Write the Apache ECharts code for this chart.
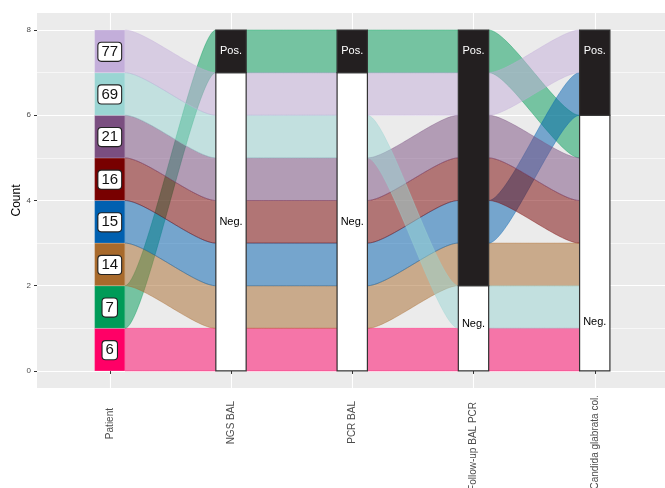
<!DOCTYPE html>
<html><head><meta charset="utf-8">
<script src="https://cdn.jsdelivr.net/npm/echarts@6/dist/echarts.min.js"></script>
<style>html,body{margin:0;padding:0;background:#fff}#c{width:665px;height:488px}</style>
</head><body><div id="c"></div>
<script>
// ---------- data ----------
const axisNames = ['Patient', 'NGS BAL', 'PCR BAL', 'Follow-up BAL PCR', 'Candida glabrata col.'];
const patients = ['6', '7', '14', '15', '16', '21', '69', '77'];
const patientCount = [1, 1, 1, 1, 1, 1, 1, 1];
const ngsBAL       = ['Neg.', 'Pos.', 'Neg.', 'Neg.', 'Neg.', 'Neg.', 'Neg.', 'Neg.'];
const pcrBAL       = ['Neg.', 'Pos.', 'Neg.', 'Neg.', 'Neg.', 'Neg.', 'Neg.', 'Neg.'];
const followUpPCR  = ['Neg.', 'Pos.', 'Pos.', 'Pos.', 'Pos.', 'Pos.', 'Neg.', 'Pos.'];
const candidaCol   = ['Neg.', 'Neg.', 'Neg.', 'Pos.', 'Neg.', 'Neg.', 'Neg.', 'Pos.'];
// stacking order of patients (bottom -> top) on each axis
const orderPatient  = ['6', '7', '14', '15', '16', '21', '69', '77'];
const orderNGS      = ['6', '14', '15', '16', '21', '69', '77', '7'];
const orderPCR      = ['6', '14', '15', '16', '21', '69', '77', '7'];
const orderFollowUp = ['6', '69', '14', '15', '16', '21', '77', '7'];
const orderCandida  = ['6', '69', '14', '16', '21', '7', '15', '77'];
const strataLevels = ['Neg.', 'Pos.'];
const negLabelY = [null, 3.5, 3.5, 1.1, 1.15];
const posLabelY = [null, 7.5, 7.5, 7.5, 7.5];
const yTicks = [0, 2, 4, 6, 8];
const yMinorTicks = [1, 3, 5, 7];
const xTicks = [1, 2, 3, 4, 5];

// ---------- styles ----------
const patientColors = ['#FF0066', '#009B58', '#A86A2C', '#0060B0', '#780000', '#7A4E80', '#9AD5D3', '#C3AEDA'];
const HALF_W = 0.125;   // half stratum width (x units)
const KNOT = 0.22;

function rgba(hex, a) {
  const n = parseInt(hex.slice(1), 16);
  return 'rgba(' + (n >> 16) + ',' + ((n >> 8) & 255) + ',' + (n & 255) + ',' + a + ')';
}

const statusByAxis = [null, ngsBAL, pcrBAL, followUpPCR, candidaCol];
const orders = [orderPatient, orderNGS, orderPCR, orderFollowUp, orderCandida];
// lower bound of each patient on each axis
const lower = orders.map(function (ord) {
  const res = new Array(patients.length);
  let acc = 0;
  ord.forEach(function (id) {
    const p = patients.indexOf(id);
    res[p] = acc;
    acc += patientCount[p];
  });
  return res;
});

// flow items: [axisIndex, patientIndex]
const flowData = [];
for (let p = 0; p < patients.length; p++) {
  for (let a = 0; a < axisNames.length - 1; a++) flowData.push([a, p]);
}
// strata items: [axisIndex, levelIndex, low, high]
const strataData = [];
for (let a = 1; a < axisNames.length; a++) {
  strataLevels.forEach(function (lv, li) {
    let lo = Infinity, hi = -Infinity;
    statusByAxis[a].forEach(function (s, p) {
      if (s === lv) { lo = Math.min(lo, lower[a][p]); hi = Math.max(hi, lower[a][p] + patientCount[p]); }
    });
    if (hi > lo) strataData.push([a, li, lo, hi]);
  });
}
const patientStrata = patients.map(function (id, p) { return [0, p, lower[0][p], lower[0][p] + patientCount[p]]; });

function bez(p0, p1, p2, p3, t) {
  const u = 1 - t;
  return u * u * u * p0 + 3 * u * u * t * p1 + 3 * u * t * t * p2 + t * t * t * p3;
}

function renderFlow(params, api) {
  const a = api.value(0), p = api.value(1);
  const xa = a + 1 + HALF_W, xb = a + 2 - HALF_W;
  const y0b = lower[a][p], y0t = y0b + patientCount[p];
  const y1b = lower[a + 1][p], y1t = y1b + patientCount[p];
  const A0 = api.coord([xa, y0t]), A1 = api.coord([xb, y1t]);
  const B0 = api.coord([xa, y0b]), B1 = api.coord([xb, y1b]);
  const dx = A1[0] - A0[0];
  const pts = [];
  const N = 40;
  for (let i = 0; i <= N; i++) {
    const t = i / N;
    pts.push([bez(A0[0], A0[0] + KNOT * dx, A1[0] - KNOT * dx, A1[0], t), bez(A0[1], A0[1], A1[1], A1[1], t)]);
  }
  for (let i = N; i >= 0; i--) {
    const t = i / N;
    pts.push([bez(B0[0], B0[0] + KNOT * dx, B1[0] - KNOT * dx, B1[0], t), bez(B0[1], B0[1], B1[1], B1[1], t)]);
  }
  const c = patientColors[p];
  return {
    type: 'polygon',
    shape: { points: pts },
    style: { fill: rgba(c, 0.5), stroke: rgba(c, 0.55), lineWidth: 0.7 }
  };
}

function renderStratum(params, api) {
  const a = api.value(0), li = api.value(1), lo = api.value(2), hi = api.value(3);
  const x = a + 1;
  const tl = api.coord([x - HALF_W, hi]), br = api.coord([x + HALF_W, lo]);
  const pos = strataLevels[li] === 'Pos.';
  const ly = pos ? posLabelY[a] : negLabelY[a];
  const lp = api.coord([x, ly]);
  return {
    type: 'group',
    children: [
      { type: 'rect', shape: { x: tl[0], y: tl[1], width: br[0] - tl[0], height: br[1] - tl[1] },
        style: { fill: pos ? '#231F20' : '#FFFFFF', stroke: '#333333', lineWidth: 1.2 } },
      { type: 'text', style: { text: strataLevels[li], x: lp[0], y: lp[1], align: 'center', verticalAlign: 'middle',
        fill: pos ? '#FFFFFF' : '#000000', fontSize: 11, fontFamily: 'Liberation Sans' } }
    ]
  };
}

function renderPatient(params, api) {
  const p = api.value(1), lo = api.value(2), hi = api.value(3);
  const tl = api.coord([1 - HALF_W, hi]), br = api.coord([1 + HALF_W, lo]);
  const c = api.coord([1, (lo + hi) / 2]);
  return {
    type: 'group',
    children: [
      { type: 'rect', shape: { x: tl[0], y: tl[1], width: br[0] - tl[0], height: br[1] - tl[1] },
        style: { fill: patientColors[p], stroke: 'rgba(255,255,255,0.35)', lineWidth: 0.6 } },
      { type: 'text', style: { text: patients[p], x: c[0], y: c[1] + 0.5, align: 'center', verticalAlign: 'middle',
        fill: '#111', fontSize: 15, fontFamily: 'Liberation Sans',
        backgroundColor: '#FFFFFF', borderColor: '#222', borderWidth: 1.1, borderRadius: 3, padding: [2, 3, 1, 3] } }
    ]
  };
}

const labelPad = { 'Patient': 13, 'NGS BAL': 6, 'PCR BAL': 6, 'Follow-up BAL PCR': 7, 'Candida glabrata col.': 0 };
const rich = {};
axisNames.forEach(function (n, i) {
  rich['l' + i] = { fontSize: 10, color: '#4D4D4D', fontFamily: 'Liberation Sans', padding: [0, labelPad[n], 0, 0] };
});

const chart = echarts.init(document.getElementById('c'), null, { renderer: 'canvas' });
chart.setOption({
  animation: false,
  backgroundColor: '#FFFFFF',
  grid: { left: 37, top: 13, width: 630.5, height: 375, show: true, backgroundColor: '#EBEBEB', borderWidth: 0,
          containLabel: false, outerBoundsMode: 'none' },
  xAxis: {
    type: 'value', min: 0.4, max: 5.6,
    axisLine: { show: false },
    axisTick: { show: true, length: 3, lineStyle: { color: '#333333', width: 1 }, customValues: xTicks },
    axisLabel: { customValues: xTicks, rotate: 90, margin: 7, hideOverlap: false,
      formatter: function (v) { const i = Math.round(v) - 1; return '{l' + i + '|' + axisNames[i] + '}'; },
      rich: rich },
    splitLine: { show: true, lineStyle: { color: '#FFFFFF', width: 1.1 } }
  },
  yAxis: [{
    type: 'value', min: -0.4, max: 8.4, name: 'Count', nameLocation: 'middle', nameGap: 14, nameMoveOverlap: false,
    nameTextStyle: { fontSize: 12, color: '#000', fontFamily: 'Liberation Sans' },
    axisLine: { show: false },
    axisTick: { show: true, length: 3, lineStyle: { color: '#333333', width: 1 }, customValues: yTicks },
    axisLabel: { customValues: yTicks, fontSize: 8, color: '#4D4D4D', fontFamily: 'Liberation Sans', margin: 6 },
    splitLine: { show: true, lineStyle: { color: '#FFFFFF', width: 1.1 } }
  }, {
    type: 'value', min: -0.4, max: 8.4, position: 'left',
    axisLine: { show: false },
    axisTick: { show: false, customValues: yMinorTicks },
    axisLabel: { show: false, customValues: yMinorTicks },
    splitLine: { show: true, lineStyle: { color: '#FFFFFF', width: 0.6 } }
  }],
  series: [
    { type: 'custom', coordinateSystem: 'cartesian2d', renderItem: renderFlow, data: flowData, z: 2, silent: true,
      encode: { x: -1, y: -1 } },
    { type: 'custom', coordinateSystem: 'cartesian2d', renderItem: renderPatient, data: patientStrata, z: 3, silent: true,
      encode: { x: -1, y: -1 } },
    { type: 'custom', coordinateSystem: 'cartesian2d', renderItem: renderStratum, data: strataData, z: 3, silent: true,
      encode: { x: -1, y: -1 } }
  ]
});
</script></body></html>
